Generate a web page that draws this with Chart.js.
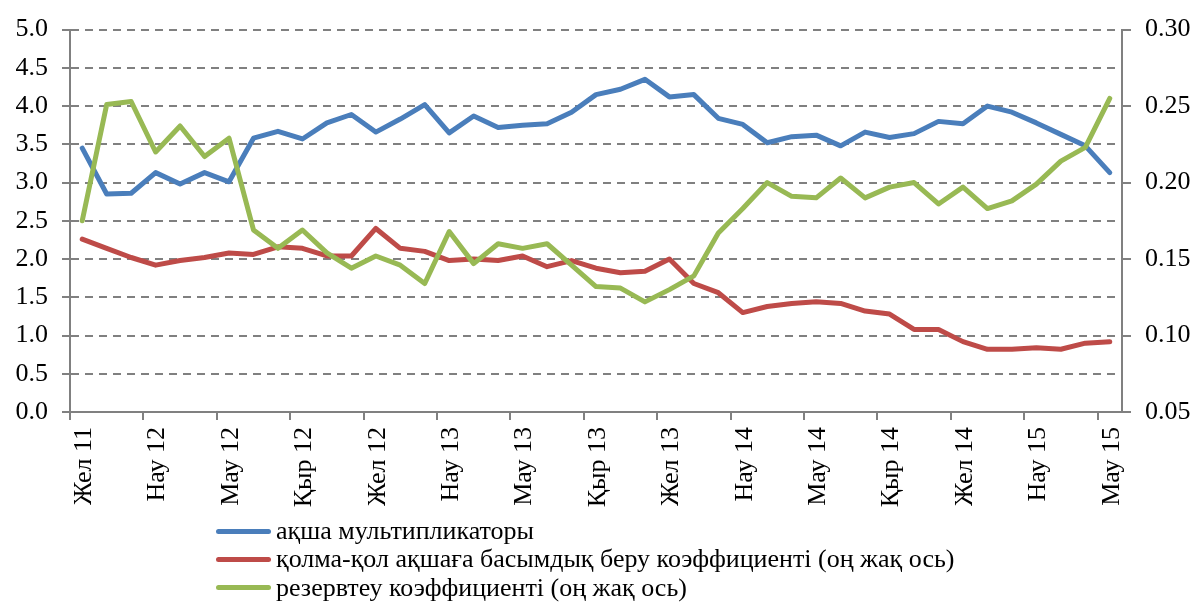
<!DOCTYPE html>
<html>
<head>
<meta charset="utf-8">
<script src="https://cdn.jsdelivr.net/npm/chart.js@4.4.0/dist/chart.umd.min.js"></script>
<style>
  html, body { margin: 0; padding: 0; background: #fff; }
  #wrap { position: relative; width: 1197px; height: 602px; }
  #legend {
    position: absolute; left: 216px; top: 517px;
    font-family: "Liberation Serif", "Times New Roman", serif;
    font-size: 26px; color: #000;
  }
  .item { display: flex; align-items: center; height: 28.3px; white-space: nowrap; }
  .swatch { width: 55px; height: 5px; border-radius: 3px; margin-right: 5px; }
</style>
</head>
<body>
<div id="wrap">
  <canvas id="chart" width="1197" height="602"></canvas>
  <div id="legend"></div>
</div>
<script>
// months Dec 2011 .. Jun 2015, label shown every 3rd
const categories = [
  'Жел 11',
  'Қаң 12', 'Ақп 12', 'Нау 12', 'Сәу 12', 'Мам 12', 'Мау 12', 'Шіл 12', 'Там 12', 'Қыр 12', 'Қаз 12', 'Қар 12', 'Жел 12',
  'Қаң 13', 'Ақп 13', 'Нау 13', 'Сәу 13', 'Мам 13', 'Мау 13', 'Шіл 13', 'Там 13', 'Қыр 13', 'Қаз 13', 'Қар 13', 'Жел 13',
  'Қаң 14', 'Ақп 14', 'Нау 14', 'Сәу 14', 'Мам 14', 'Мау 14', 'Шіл 14', 'Там 14', 'Қыр 14', 'Қаз 14', 'Қар 14', 'Жел 14',
  'Қаң 15', 'Ақп 15', 'Нау 15', 'Сәу 15', 'Мам 15', 'Мау 15'
];

const multiplier = [3.45, 2.85, 2.86, 3.13, 2.98, 3.13, 3.01, 3.58, 3.67, 3.57, 3.78, 3.89, 3.66,
  3.83, 4.02, 3.65, 3.87, 3.72, 3.75, 3.77, 3.92, 4.15, 4.22, 4.35, 4.12,
  4.15, 3.84, 3.76, 3.52, 3.60, 3.62, 3.48, 3.66, 3.59, 3.64, 3.80, 3.77,
  4.00, 3.92, 3.78, 3.63, 3.48, 3.13];

const cashRatio = [0.163, 0.157, 0.151, 0.146, 0.149, 0.151, 0.154, 0.153, 0.158, 0.157, 0.152, 0.152, 0.170,
  0.157, 0.155, 0.149, 0.150, 0.149, 0.152, 0.145, 0.149, 0.144, 0.141, 0.142, 0.150,
  0.134, 0.128, 0.115, 0.119, 0.121, 0.122, 0.121, 0.116, 0.114, 0.104, 0.104, 0.096,
  0.091, 0.091, 0.092, 0.091, 0.095, 0.096];

const reserveRatio = [0.175, 0.251, 0.253, 0.220, 0.237, 0.217, 0.229, 0.169, 0.157, 0.169, 0.154, 0.144, 0.152,
  0.146, 0.134, 0.168, 0.147, 0.160, 0.157, 0.160, 0.146, 0.132, 0.131, 0.122, 0.130,
  0.139, 0.167, 0.183, 0.200, 0.191, 0.190, 0.203, 0.190, 0.197, 0.200, 0.186, 0.197,
  0.183, 0.188, 0.199, 0.214, 0.223, 0.255];

const seriesNames = [
  'ақша мультипликаторы',
  'қолма-қол ақшаға басымдық беру коэффициенті (оң жақ ось)',
  'резервтеу коэффициенті (оң жақ ось)'
];

const axisColor = '#808080';
const font = { family: '"Liberation Serif", "Times New Roman", serif', size: 26 };

function line(label, data, color, axis, order) {
  return {
    label: label,
    data: data,
    yAxisID: axis,
    borderColor: color,
    backgroundColor: color,
    borderWidth: 5,
    borderJoinStyle: 'round',
    borderCapStyle: 'round',
    pointRadius: 0,
    tension: 0,
    fill: false,
    order: order
  };
}

const data = {
  labels: categories,
  datasets: [
    line(seriesNames[0], multiplier, '#4A7EBB', 'y', 3),
    line(seriesNames[1], cashRatio, '#BE4B48', 'y1', 2),
    line(seriesNames[2], reserveRatio, '#98B954', 'y1', 1)
  ]
};

const config = {
  type: 'line',
  data: data,
  options: {
    responsive: false,
    animation: false,
    layout: { padding: { top: 22, bottom: 90, left: 0, right: 0 } },
    plugins: { legend: { display: false }, tooltip: { enabled: false } },
    scales: {
      x: {
        type: 'category',
        offset: true,
        grid: {
          offset: true,
          drawOnChartArea: false,
          tickLength: 8,
          lineWidth: 2,
          color: (c) => (c.index % 3 === 0 ? axisColor : 'rgba(0,0,0,0)')
        },
        border: { color: axisColor, width: 2 },
        ticks: {
          autoSkip: false,
          minRotation: 90,
          maxRotation: 90,
          padding: 7,
          labelOffset: 2,
          color: '#000',
          font: font,
          callback: function (v, i) { return i % 3 === 0 ? this.getLabelForValue(v) : ''; }
        },
        afterFit: (s) => { s.height = 100; }
      },
      y: {
        position: 'left',
        min: 0,
        max: 5,
        grid: { color: axisColor, lineWidth: 2, tickLength: 8, tickColor: axisColor },
        border: { color: axisColor, width: 2, dash: [8, 6] },
        ticks: { stepSize: 0.5, padding: 14, color: '#000', font: font, callback: (v) => v.toFixed(1) },
        afterFit: (s) => { s.width = 70; }
      },
      y1: {
        position: 'right',
        min: 0.05,
        max: 0.30,
        grid: { drawOnChartArea: false, color: axisColor, lineWidth: 2, tickLength: 9 },
        border: { color: axisColor, width: 2 },
        ticks: { stepSize: 0.05, padding: 14, color: '#000', font: font, callback: (v) => v.toFixed(2) },
        afterFit: (s) => { s.width = 75; }
      }
    }
  }
};

const chart = new Chart(document.getElementById('chart'), config);

// legend stacked under the plot
const legend = document.getElementById('legend');
chart.data.datasets.forEach(function (ds) {
  const row = document.createElement('div');
  row.className = 'item';
  row.innerHTML = '<span class="swatch" style="background:' + ds.borderColor + '"></span><span>' + ds.label + '</span>';
  legend.appendChild(row);
});
</script>
</body>
</html>
